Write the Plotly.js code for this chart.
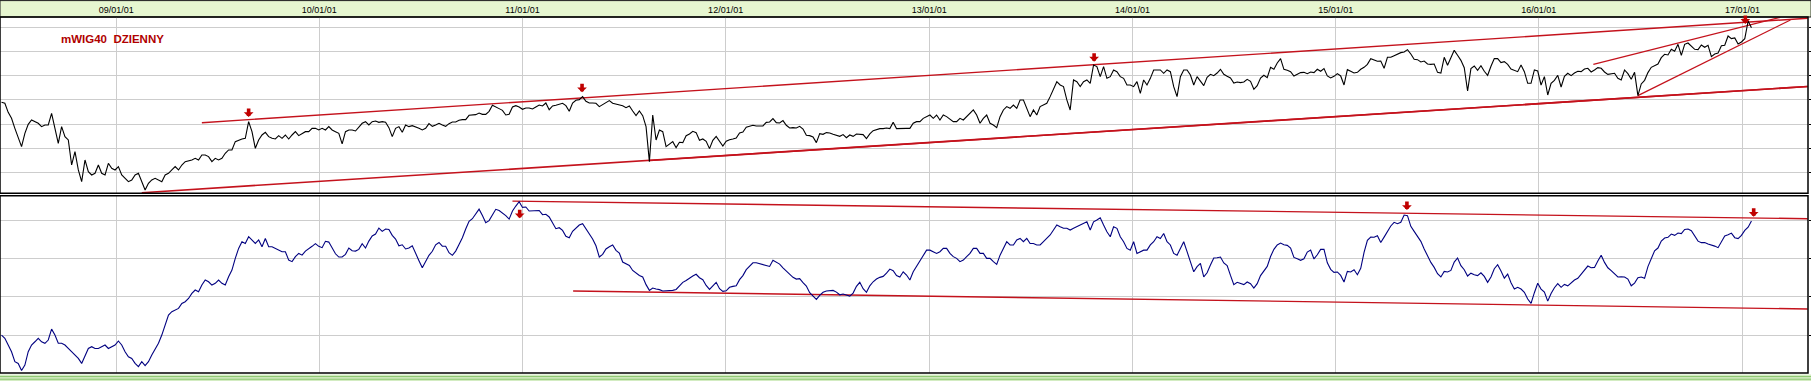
<!DOCTYPE html>
<html><head><meta charset="utf-8">
<script src="https://cdn.plot.ly/plotly-3.0.1.min.js"></script>
<style>html,body{margin:0;padding:0;background:#fff;overflow:hidden}</style>
</head><body><div id="chart" style="width:1811px;height:381px"></div>
<script>
// ---- data ----
const startDate = '2008-06-09';
const stepDays = 6;
const chartTitle = 'mWIG40\u00a0 DZIENNY';
const yearTicks = ['2009-01-01','2010-01-01','2011-01-01','2012-01-01','2013-01-01','2014-01-01','2015-01-01','2016-01-01','2017-01-01'];

const price = [
2559,2543,2394,2295,2130,1993,1828,2048,2196,2268,
2240,2213,2158,2185,2185,2378,2130,1883,2158,1993,
1938,1525,1745,1443,1250,1608,1415,1360,1388,1525,
1388,1360,1553,1470,1443,1498,1360,1305,1250,1278,
1360,1388,1250,1113,1223,1278,1305,1278,1250,1360,
1388,1443,1498,1443,1525,1580,1591,1608,1635,1608,
1690,1690,1663,1580,1635,1608,1635,1718,1773,1773,
1910,1938,1954,1965,2240,2075,1800,1938,2020,2064,
1993,1965,1954,2009,1965,2020,1954,2020,2075,2009,
2037,2075,2075,2130,2130,2103,2130,2103,2158,2103,
2075,2048,1872,2075,2103,2103,2086,2158,2213,2240,
2185,2240,2251,2229,2240,2229,2141,1993,2130,2158,
2064,2185,2158,2174,2158,2130,2103,2130,2207,2163,
2185,2213,2185,2163,2207,2235,2235,2262,2273,2273,
2345,2350,2356,2383,2361,2361,2411,2510,2488,2455,
2427,2350,2361,2482,2504,2482,2444,2466,2466,2449,
2482,2515,2499,2548,2438,2499,2510,2526,2543,2504,
2411,2548,2592,2603,2653,2576,2548,2548,2543,2488,
2526,2554,2587,2543,2526,2515,2504,2471,2499,2416,
2339,2416,2339,2158,1580,2350,1938,2103,2075,1828,
1866,1910,1811,1899,1894,2009,2037,2081,2059,1932,
1954,1916,1795,1932,1998,1927,1839,1916,1943,1954,
1971,2053,2070,2147,2169,2180,2169,2174,2169,2229,
2235,2290,2224,2218,2257,2180,2136,2141,2136,2163,
2119,2015,2009,1987,1894,2042,2031,2059,2053,2031,
2015,1998,2026,1976,2020,1998,2037,2026,2026,1960,
2037,2092,2114,2125,2125,2136,2125,2229,2125,2130,
2130,2130,2130,2213,2240,2240,2295,2323,2350,2295,
2350,2268,2350,2323,2284,2240,2240,2295,2268,2323,
2378,2433,2350,2213,2295,2350,2213,2185,2141,2323,
2433,2488,2460,2515,2460,2598,2598,2460,2323,2433,
2350,2488,2515,2543,2653,2763,2900,2845,2818,2598,
2433,2928,2900,2818,2900,2928,2873,3175,3148,2983,
3148,2955,2983,3093,3065,2983,2955,2845,2845,2818,
2900,2708,2928,2845,2955,3093,3093,3093,3038,3093,
3065,2818,2653,2983,3093,3093,3010,2845,2983,2900,
2834,2972,3021,2999,3043,3104,3021,2988,2961,2878,
2895,2884,2895,2939,2906,2774,2834,2961,3005,2966,
3137,3104,3208,3280,3104,3087,3065,2994,3016,3049,
3054,3032,3060,3049,3104,3071,3115,2994,2961,2988,
3032,2994,2845,3098,3071,3043,3054,3104,3137,3186,
3280,3263,3236,3241,3120,3302,3302,3329,3357,3379,
3390,3428,3357,3269,3263,3225,3241,3192,3186,3192,
3054,3043,3302,3170,3296,3417,3335,3252,3131,2746,
3115,3159,3087,3164,3071,3005,3153,3280,3280,
3214,3230,3186,3109,3082,3065,3175,3065,2873,2873,
3093,3076,2845,2983,2680,2873,2922,3005,2812,2988,
3038,2999,3043,3071,3065,3109,3120,3060,3093,3131,
3120,3060,3021,3027,3038,2955,2928,3093,3032,2939,
3054,2669,2862,2922,3049,3137,3159,3192,3296,3351,
3340,3434,3401,3516,3335,3516,3538,3483,3434,3428,
3505,3467,3500,3313,3357,3373,3494,3500,3654,3610,
3621,3522,3555,3610,3901,3791
];

const indicator = [
20.0,18.3,14.8,11.3,6.1,5.2,1.5,4.3,11.3,14.8,
16.5,18.3,16.5,15.7,17.4,23.1,20.0,15.7,15.7,14.8,
13.0,11.3,9.6,7.8,5.2,9.6,13.0,13.9,13.0,13.0,
13.9,14.8,13.0,13.9,14.8,16.9,14.8,11.3,8.7,7.8,
5.2,3.5,6.1,4.0,6.1,9.6,13.0,15.7,20.0,25.2,
30.4,32.2,33.0,33.9,36.5,37.4,39.1,41.7,43.5,42.6,
46.1,48.7,47.8,46.1,47.0,48.7,47.0,46.1,50.4,53.9,
60.0,65.2,68.7,67.8,71.3,69.6,67.8,69.6,66.1,70.4,
66.1,66.1,65.2,64.3,63.5,63.5,59.1,58.3,60.9,62.6,
61.7,63.8,64.9,66.3,67.7,66.3,65.6,68.9,68.5,65.7,
62.4,60.7,60.7,62.1,65.4,64.0,63.8,64.7,67.7,65.4,
69.0,71.7,72.7,75.8,74.1,75.3,75.1,72.0,70.1,66.6,
67.1,64.9,65.4,66.6,62.3,58.8,55.1,58.6,61.6,63.7,
67.1,68.3,66.4,66.3,63.0,61.6,63.8,67.3,70.8,75.3,
79.3,80.7,83.0,85.7,82.4,78.6,79.7,83.0,85.6,85.0,
83.8,82.3,80.5,84.7,87.3,89.6,86.6,86.8,84.7,84.7,
85.0,85.0,82.8,83.0,81.6,78.8,75.5,76.0,74.6,71.5,
70.8,74.1,75.8,77.4,78.1,75.5,72.9,70.1,66.6,60.7,
62.1,64.9,66.1,67.0,64.2,62.8,58.1,57.2,56.3,53.7,
52.3,51.1,50.3,46.3,43.3,44.5,44.0,43.7,43.0,43.0,
43.3,43.3,43.8,45.7,47.5,48.5,49.9,50.8,51.7,49.9,
48.9,45.9,43.8,45.7,47.5,44.2,42.8,43.1,44.9,45.4,
45.7,48.9,51.0,54.1,56.2,57.7,57.7,57.2,56.9,56.3,
55.8,59.0,57.9,57.0,55.1,53.6,51.7,50.1,49.2,49.4,
47.3,45.6,42.1,40.5,38.6,40.7,42.3,43.0,43.0,43.3,
42.4,41.0,41.4,41.0,40.3,41.9,45.4,47.5,44.2,42.3,
45.7,47.8,49.2,50.1,50.6,52.3,54.4,53.6,51.1,50.3,
53.0,51.3,48.7,53.0,55.7,58.3,61.7,64.3,64.3,63.5,
62.6,63.5,65.2,65.2,62.6,60.9,60.0,58.3,59.1,60.9,
62.6,65.2,65.2,62.6,62.6,60.0,60.0,58.3,56.9,61.7,
65.2,68.7,67.0,67.0,69.6,70.4,68.7,70.4,67.8,67.8,
67.0,67.0,68.7,70.4,72.2,74.8,77.4,76.5,75.7,75.7,
74.8,75.7,76.5,77.4,78.3,79.1,74.8,79.1,80.0,81.2,
77.4,73.9,71.3,76.5,75.7,71.3,68.7,65.2,64.3,68.7,
62.6,63.5,64.3,64.3,67.0,68.7,71.3,70.4,73.0,68.7,
67.0,62.6,61.7,65.2,68.7,63.5,58.3,53.0,55.7,57.4,
50.4,52.5,56.5,60.2,60.3,60.7,57.6,56.3,51.1,46.3,
47.5,46.8,46.3,47.7,46.8,44.5,46.8,51.0,53.7,55.8,
61.0,64.7,67.0,68.0,67.1,66.8,65.4,60.5,59.8,59.0,
59.8,63.3,64.3,59.7,61.9,64.7,64.7,57.7,54.3,52.7,
52.9,51.1,47.7,53.2,52.9,54.1,51.5,54.8,63.1,69.4,
71.1,71.0,71.8,68.3,71.1,74.3,76.9,78.8,78.1,78.8,
82.6,82.3,76.7,74.1,71.3,68.9,64.9,61.0,57.9,55.3,
52.0,50.3,53.2,52.9,53.7,58.1,60.2,56.2,54.1,50.8,
52.3,51.5,51.0,52.5,50.6,47.5,50.3,54.6,56.7,
53.4,49.7,51.8,47.3,44.0,44.9,44.0,42.3,38.8,36.5,
42.1,47.0,44.0,42.4,37.7,41.7,44.7,46.8,44.9,46.4,
45.7,47.3,48.7,49.6,51.7,53.4,56.0,55.1,55.3,58.6,
61.6,57.9,55.1,53.6,52.0,50.3,50.4,50.3,49.2,45.7,
47.1,49.9,50.3,49.6,55.7,60.3,64.0,65.4,69.0,70.6,
71.0,72.7,72.0,73.2,72.9,75.1,75.3,74.4,71.8,69.0,
68.2,68.3,67.5,67.1,66.4,65.6,69.0,71.7,72.3,73.2,
70.8,70.3,72.0,74.6,76.3,79.5
];

// trend lines (price panel)
const chTopX = ['2009-06-04','2017-04-28'];  const chTopY = [2223, 3946];
const chBotX = ['2009-02-16','2017-04-28'];  const chBotY = [1068, 2820];
const chBot2X = ['2011-08-18','2017-04-28']; const chBot2Y = [1600, 2820];
const rise1X = ['2016-06-27','2017-03-28'];  const rise1Y = [2669, 3918];
const rise2X = ['2016-04-08','2017-03-10'];  const rise2Y = [3187, 3962];
// trend lines (indicator panel)
const indTopX = ['2010-12-14','2017-04-28']; const indTopY = [89.9, 80.7];
const indBotX = ['2011-04-02','2017-04-28']; const indBotY = [43.0, 33.6];
// arrows
const priceArrowX = ['2009-08-27','2011-04-18','2013-10-24','2017-01-06'];
const priceArrowY = [2317, 2725, 3230, 3852];
const indArrowX = ['2010-12-27','2015-05-09','2017-01-21'];
const indArrowY = [80.9, 85.2, 81.7];

// ---- build ----
function makeDates(n){
  const t0 = Date.parse(startDate + 'T00:00:00Z');
  const out = [];
  for (let i = 0; i < n; i++) out.push(new Date(t0 + i*stepDays*86400000).toISOString().slice(0,10));
  return out;
}
const dPrice = makeDates(price.length);
const dInd = makeDates(indicator.length);

const RED = '#c4121c';
function seg(x, y, ya, w){ return {x:x, y:y, yaxis:ya, type:'scatter', mode:'lines', line:{color:RED, width:w}, hoverinfo:'skip'}; }

const traces = [
  seg(chTopX, chTopY, 'y', 1.4),
  seg(chBotX, chBotY, 'y', 1.6),
  seg(chBot2X, chBot2Y, 'y', 1.6),
  seg(rise1X, rise1Y, 'y', 1.3),
  seg(rise2X, rise2Y, 'y', 1.3),
  seg(indTopX, indTopY, 'y2', 1.4),
  seg(indBotX, indBotY, 'y2', 1.4),
  {x:dPrice, y:price, yaxis:'y', type:'scatter', mode:'lines', line:{color:'#000000', width:1.1}, hoverinfo:'skip'},
  {x:dInd, y:indicator, yaxis:'y2', type:'scatter', mode:'lines', line:{color:'#000080', width:1.1}, hoverinfo:'skip'}
];

const annotations = [];
function arrow(x, y, yref){
  return {x:x, y:y, xref:'x', yref:yref, text:'', showarrow:true, arrowhead:1, arrowsize:0.45,
          arrowwidth:3.6, arrowcolor:'#c00000', ax:0, ay:-10, standoff:0};
}
priceArrowX.forEach((d,i)=>annotations.push(arrow(d, priceArrowY[i], 'y')));
indArrowX.forEach((d,i)=>annotations.push(arrow(d, indArrowY[i], 'y2')));
annotations.push({xref:'paper', yref:'paper', x:0.0327, y:0.9396, xanchor:'left', yanchor:'middle',
  text:'<b>'+chartTitle+'</b>', showarrow:false,
  font:{family:'Arial, Liberation Sans, sans-serif', size:11.5, color:'#b00000'}});

const H = 356; // plot height in px
const upTop = 1, upBot = 0.5048, loTop = 0.498;
const shapes = [
  {type:'rect', xref:'paper', yref:'paper', x0:0, x1:1.0017, y0:1, y1:1+16.4/H, layer:'below',
   fillcolor:'#e6f6d0', line:{color:'#1a1a1a', width:1}},
  {type:'rect', xref:'paper', yref:'paper', x0:-0.001, x1:1.0017, y0:-8/H, y1:-1.6/H, layer:'below',
   fillcolor:'#d3ecc2', line:{width:0}},
  {type:'line', xref:'paper', yref:'paper', x0:0, x1:1.0017, y0:-3.6/H, y1:-3.6/H, line:{color:'#88c46c', width:1}},
  {type:'line', xref:'paper', yref:'paper', x0:0, x1:1.0017, y0:-6.2/H, y1:-6.2/H, line:{color:'#88c46c', width:1}},
  {type:'rect', xref:'paper', yref:'paper', x0:0, x1:1, y0:upBot, y1:upTop, line:{color:'#000', width:1.5}},
  {type:'rect', xref:'paper', yref:'paper', x0:0, x1:1, y0:0, y1:loTop, line:{color:'#000', width:1.5}}
];

const gridC = '#cdcdcd';
const layout = {
  width:1811, height:381,
  margin:{l:0, r:3, t:17, b:8, pad:0},
  paper_bgcolor:'#ffffff', plot_bgcolor:'#ffffff',
  showlegend:false, hovermode:false,
  xaxis:{type:'date', range:['2008-06-06 07:00','2017-04-28 14:00'], anchor:'y', side:'top',
    tickvals:yearTicks, tickformat:'%y/%m/%d', showgrid:true, gridcolor:gridC, gridwidth:1,
    zeroline:false, showline:false, ticks:'', ticklabelstandoff:1,
    tickfont:{family:'Arial, Liberation Sans, sans-serif', size:9, color:'#000'}},
  yaxis:{domain:[upBot, upTop], range:[1058, 3967], side:'right', anchor:'x',
    tickvals:[1400,1800,2200,2600,3000,3400,3800], showticklabels:false, ticks:'outside', ticklen:3,
    tickcolor:'#000', showgrid:true, gridcolor:gridC, zeroline:false, showline:false},
  yaxis2:{domain:[0, loTop], range:[0.2, 92.7], side:'right', anchor:'x',
    tickvals:[20,40,60,80], showticklabels:false, ticks:'outside', ticklen:3,
    tickcolor:'#000', showgrid:true, gridcolor:gridC, zeroline:false, showline:false},
  shapes:shapes, annotations:annotations
};
Plotly.newPlot('chart', traces, layout, {displayModeBar:false, staticPlot:true});
</script>
</body></html>
